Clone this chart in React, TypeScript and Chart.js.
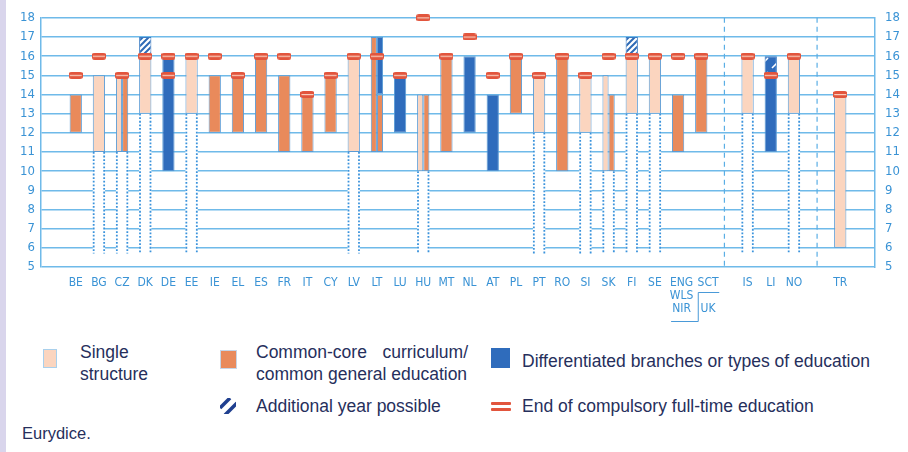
import React, { useEffect, useRef } from 'react';
import { Chart, registerables } from 'chart.js';

Chart.register(...registerables);

// ---- Categories (empty codes are spacer slots) ----
const codes: string[] = [
  '', 'BE', 'BG', 'CZ', 'DK', 'DE', 'EE', 'IE', 'EL', 'ES', 'FR', 'IT', 'CY', 'LV', 'LT', 'LU', 'HU',
  'MT', 'NL', 'AT', 'PL', 'PT', 'RO', 'SI', 'SK', 'FI', 'SE', 'ENG', 'SCT', '', 'IS', 'LI', 'NO', '', 'TR', '',
];
const NB2 = '\u00a0\u00a0';
const NB4 = '\u00a0\u00a0\u00a0\u00a0';
const tickLabels: (string | string[])[] = [
  '', 'BE', 'BG', 'CZ', 'DK', 'DE', 'EE', 'IE', 'EL', 'ES', 'FR', 'IT', 'CY', 'LV', 'LT', 'LU', 'HU',
  'MT', 'NL', 'AT', 'PL', 'PT', 'RO', 'SI', 'SK', 'FI', 'SE',
  [NB2 + 'ENG', NB2 + 'WLS', NB2 + 'NIR'], [NB4 + 'SCT', '', NB4 + 'UK'],
  '', 'IS', 'LI', 'NO', '', 'TR', '',
];
const ageMin = 5;
const ageMax = 18;

type Span = [string, number, number];

// ---- Series (age ranges) ----
const singleStructure: Span[] = [
  ['BG', 11, 15], ['DK', 13, 16], ['EE', 13, 16], ['LV', 11, 16], ['PT', 12, 15], ['SI', 12, 15],
  ['FI', 13, 16], ['SE', 13, 16], ['IS', 13, 16], ['NO', 13, 16], ['TR', 6, 14],
];
const singleStructureSplit: Span[] = [['CZ', 11, 15], ['HU', 10, 14], ['SK', 10, 15]];
const singleStructureEarlierYears: Span[] = [
  ['BG', 5.7, 11], ['CZ', 5.7, 11], ['DK', 5.7, 13], ['EE', 5.7, 13], ['LV', 5.7, 11], ['HU', 5.7, 10],
  ['PT', 5.7, 12], ['SI', 5.7, 12], ['SK', 5.7, 10], ['FI', 5.7, 13], ['SE', 5.7, 13], ['IS', 5.7, 13], ['NO', 5.7, 13],
];
const commonCore: Span[] = [
  ['BE', 12, 14], ['IE', 12, 15], ['EL', 12, 15], ['ES', 12, 16], ['FR', 11, 15], ['IT', 11, 14],
  ['CY', 12, 15], ['MT', 11, 16], ['PL', 13, 16], ['RO', 10, 16], ['ENG', 11, 14], ['SCT', 12, 16],
];
const commonCoreSplitLeft: Span[] = [['LT', 11, 17]];
const commonCoreSplitRight: Span[] = [['CZ', 11, 15], ['LT', 11, 14], ['HU', 10, 14], ['SK', 10, 14]];
const differentiated: Span[] = [['DE', 10, 16], ['LU', 12, 15], ['NL', 12, 16], ['AT', 10, 14], ['LI', 11, 15]];
const differentiatedSplitRight: Span[] = [['LT', 14, 17]];
const additionalYear: Span[] = [['DK', 16, 17], ['FI', 16, 17], ['LI', 15, 16]];
const endCompulsory: [string, number][] = [
  ['BE', 15], ['BG', 16], ['CZ', 15], ['DK', 16], ['DE', 16], ['EE', 16], ['IE', 16], ['EL', 15], ['ES', 16],
  ['FR', 16], ['IT', 14], ['CY', 15], ['LV', 16], ['LT', 16], ['LU', 15], ['HU', 18], ['MT', 16], ['NL', 17],
  ['AT', 15], ['PL', 16], ['PT', 15], ['RO', 16], ['SI', 15], ['SK', 16], ['FI', 16], ['SE', 16], ['ENG', 16],
  ['SCT', 16], ['IS', 16], ['LI', 15], ['NO', 16], ['TR', 14],
];
const endCompulsoryAlt: [string, number][] = [['DE', 15]];

const spanSeries = (list: Span[]) =>
  codes.map((c) => {
    const f = c ? list.find((s) => s[0] === c) : undefined;
    return f ? [f[1], f[2]] : null;
  });
const pointSeries = (list: [string, number][]) =>
  codes.map((c) => {
    const f = c ? list.find((s) => s[0] === c) : undefined;
    return f ? f[1] : null;
  });

const C_SINGLE = '#fbd5bf';
const C_COMMON = '#e98a5b';
const C_DIFF = '#2f6cbc';
const C_EDGE = '#5a9bd5';
const C_GRID = '#6fbae9';
const C_TICK = '#3a93d5';
const C_RED = '#e2553d';
const C_TEXT = '#262f5c';
const TICK_FONT = "'Liberation Sans Narrow', 'DejaVu Sans Condensed', sans-serif";
const LEGEND_FONT = "'Liberation Sans', Arial, sans-serif";

export default function App() {
  const ref = useRef<HTMLCanvasElement>(null);

  useEffect(() => {
    const canvas = ref.current;
    if (!canvas) return;

    const tile = (w: number, h: number, draw: (c: CanvasRenderingContext2D) => void) => {
      const t = document.createElement('canvas');
      t.width = w;
      t.height = h;
      const c = t.getContext('2d')!;
      draw(c);
      return t;
    };
    const hatchWhite = tile(6, 6, (c) => {
      c.fillStyle = '#ffffff';
      c.fillRect(0, 0, 6, 6);
      c.strokeStyle = '#2e6ab5';
      c.lineWidth = 2;
      c.beginPath();
      c.moveTo(-3, 3); c.lineTo(3, -3);
      c.moveTo(0, 6); c.lineTo(6, 0);
      c.moveTo(3, 9); c.lineTo(9, 3);
      c.stroke();
    });
    const hatchBlue = tile(14, 14, (c) => {
      c.fillStyle = C_DIFF;
      c.fillRect(0, 0, 14, 14);
      c.strokeStyle = '#ffffff';
      c.lineWidth = 1.6;
      c.beginPath();
      c.moveTo(2, 12); c.lineTo(12, 2);
      c.stroke();
    });
    const ctx0 = canvas.getContext('2d')!;
    const patWhite = ctx0.createPattern(hatchWhite, 'repeat')!;
    const patBlue = ctx0.createPattern(hatchBlue, 'repeat')!;

    const marker = tile(14, 7, (c) => {
      c.fillStyle = C_RED;
      c.beginPath();
      c.moveTo(3, 0); c.lineTo(11, 0); c.arc(11, 3.5, 3.5, -Math.PI / 2, Math.PI / 2); c.lineTo(3, 7);
      c.arc(3, 3.5, 3.5, Math.PI / 2, Math.PI * 1.5);
      c.fill();
      c.fillStyle = '#f9cdbd';
      c.fillRect(1, 3, 12, 1.2);
    });

    const diffSeries = spanSeries(differentiated);

    const barBase = {
      type: 'bar' as const,
      categoryPercentage: 0.53,
      barPercentage: 1,
      borderWidth: 1,
      borderColor: C_EDGE,
      borderSkipped: false,
      order: 3,
    };

    const decor = {
      id: 'decor',
      afterDatasetsDraw(chart: any) {
        const c = chart.ctx;
        const xs = chart.scales.x;
        const area = chart.chartArea;
        // dotted edges of earlier single-structure years
        const meta = chart.getDatasetMeta(0);
        c.save();
        c.strokeStyle = '#3b93dc';
        c.lineWidth = 1.8;
        c.setLineDash([1.8, 1.8]);
        meta.data.forEach((el: any, i: number) => {
          if (chart.data.datasets[0].data[i] == null) return;
          const p = el.getProps(['x', 'y', 'base', 'width'], true);
          const top = Math.min(p.y, p.base);
          const bot = Math.max(p.y, p.base);
          [p.x - p.width / 2 + 0.9, p.x + p.width / 2 - 0.9].forEach((xx) => {
            c.beginPath();
            c.moveTo(xx, top);
            c.lineTo(xx, bot);
            c.stroke();
          });
        });
        // dashed separators at spacer slots
        c.strokeStyle = '#5aaee5';
        c.lineWidth = 1.2;
        c.setLineDash([5, 4]);
        codes.forEach((code, i) => {
          if (code !== '' || i === 0 || i === codes.length - 1) return;
          const px = xs.getPixelForValue(i);
          c.beginPath();
          c.moveTo(px, area.top);
          c.lineTo(px, area.bottom);
          c.stroke();
        });
        c.restore();
      },
      afterDraw(chart: any) {
        const c = chart.ctx;
        const xs = chart.scales.x;
        const b = chart.chartArea.bottom;
        const xE = xs.getPixelForValue(codes.indexOf('ENG'));
        const xS = xs.getPixelForValue(codes.indexOf('SCT'));
        c.save();
        c.strokeStyle = '#4a9ad8';
        c.lineWidth = 1;
        c.beginPath();
        c.moveTo(xS + 18, b + 25.5);
        c.lineTo(xS - 3, b + 25.5);
        c.lineTo(xS - 3, b + 54.5);
        c.lineTo(xE - 7, b + 54.5);
        c.stroke();
        c.restore();
      },
    };

    const chart = new Chart(canvas, {
      type: 'bar',
      data: {
        labels: tickLabels as any,
        datasets: [
          { ...barBase, label: 'earlier', data: spanSeries(singleStructureEarlierYears) as any, grouped: false, backgroundColor: '#ffffff', borderWidth: 0, order: 6 },
          { ...barBase, label: 'Single structure', data: spanSeries(singleStructure) as any, grouped: false, backgroundColor: C_SINGLE },
          { ...barBase, label: 'Common core', data: spanSeries(commonCore) as any, grouped: false, backgroundColor: C_COMMON },
          { ...barBase, label: 'Differentiated', data: diffSeries as any, grouped: false, backgroundColor: C_DIFF },
          {
            ...barBase, label: 'Additional year', data: spanSeries(additionalYear) as any, grouped: false, order: 1,
            borderColor: '#3b7cc4',
            backgroundColor: (ctx: any) => (diffSeries[ctx.dataIndex] ? patBlue : patWhite),
          },
          { ...barBase, label: 'Single L', data: spanSeries(singleStructureSplit) as any, grouped: true, stack: 'L', backgroundColor: C_SINGLE },
          { ...barBase, label: 'Common L', data: spanSeries(commonCoreSplitLeft) as any, grouped: true, stack: 'L', backgroundColor: C_COMMON },
          { ...barBase, label: 'Common R', data: spanSeries(commonCoreSplitRight) as any, grouped: true, stack: 'R', backgroundColor: C_COMMON },
          { ...barBase, label: 'Diff R', data: spanSeries(differentiatedSplitRight) as any, grouped: true, stack: 'R', backgroundColor: C_DIFF },
          {
            type: 'line', label: 'End', data: pointSeries(endCompulsory) as any, showLine: false,
            pointStyle: marker as any, pointRadius: 5, clip: false as any, order: 0,
          },
          {
            type: 'line', label: 'End alt', data: pointSeries(endCompulsoryAlt) as any, showLine: false,
            pointStyle: marker as any, pointRadius: 5, clip: false as any, order: 0,
          },
        ] as any,
      },
      options: {
        responsive: false,
        animation: false,
        devicePixelRatio: 1,
        layout: { padding: { top: 13, left: 0, right: 0, bottom: 0 } },
        plugins: { legend: { display: false }, tooltip: { enabled: false } },
        scales: {
          x: {
            type: 'category',
            offset: true,
            grid: { display: false, drawTicks: false },
            border: { display: false },
            ticks: {
              autoSkip: false, maxRotation: 0, minRotation: 0, padding: 10, color: C_TICK,
              font: { family: TICK_FONT, size: 12, lineHeight: 1.05 },
            },
            afterFit: (s: any) => { s.height = 68; },
          },
          y: {
            type: 'linear', position: 'left', min: ageMin, max: ageMax, stacked: false,
            grid: { color: C_GRID, lineWidth: 1.5, drawTicks: false },
            border: { display: true, color: C_GRID, width: 1.5 },
            ticks: { stepSize: 1, padding: 6, color: C_TICK, font: { family: TICK_FONT, size: 13 } },
            afterFit: (s: any) => { s.width = 41; },
          },
          y2: {
            type: 'linear', position: 'right', min: ageMin, max: ageMax,
            grid: { display: false, drawTicks: false },
            border: { display: true, color: C_GRID, width: 1.5 },
            ticks: { stepSize: 1, padding: 10, color: C_TICK, font: { family: TICK_FONT, size: 13 } },
            afterFit: (s: any) => { s.width = 33; },
          },
        },
      } as any,
      plugins: [decor],
    });
    return () => chart.destroy();
  }, []);

  const text = (x: number, cy: number, s: string, extra: React.CSSProperties = {}) => (
    <div style={{ position: 'absolute', left: x, top: cy - 11, lineHeight: '22px', fontSize: 17.5, whiteSpace: 'nowrap', color: C_TEXT, ...extra }}>{s}</div>
  );

  return (
    <div style={{ position: 'absolute', left: 0, top: 0, width: 908, height: 452, background: '#ffffff', overflow: 'hidden', fontFamily: LEGEND_FONT }}>
      <canvas ref={ref} width={908} height={335} style={{ position: 'absolute', left: 0, top: 0, width: 908, height: 335 }} />
      <div style={{ position: 'absolute', left: 0, top: 0, width: 6, height: 452, background: '#d9d5ec' }} />

      <div style={{ position: 'absolute', left: 43, top: 349, width: 12, height: 17, background: C_SINGLE, border: '1px solid #a9d0ec' }} />
      {text(80, 352, 'Single')}
      {text(80, 374, 'structure')}

      <div style={{ position: 'absolute', left: 220, top: 350, width: 15, height: 17, background: C_COMMON, border: '1px solid #c7d5e6' }} />
      {text(256, 352, 'Common-core curriculum/', { width: 212, textAlign: 'justify', textAlignLast: 'justify', whiteSpace: 'normal' } as any)}
      {text(256, 374, 'common general education')}

      <div style={{ position: 'absolute', left: 491, top: 348, width: 19, height: 20, background: C_DIFF }} />
      {text(522, 361, 'Differentiated branches or types of education')}

      <svg style={{ position: 'absolute', left: 220, top: 398 }} width={16} height={16}>
        <rect x={0} y={0} width={16} height={16} fill="#ffffff" />
        <line x1={0} y1={10} x2={10} y2={0} stroke="#1f3f8f" strokeWidth={3.5} />
        <line x1={5} y1={17} x2={17} y2={5} stroke="#1f3f8f" strokeWidth={3.5} />
      </svg>
      {text(256, 406, 'Additional year possible')}

      <div style={{ position: 'absolute', left: 491, top: 402, width: 20, height: 3, background: C_RED, borderRadius: 1 }} />
      <div style={{ position: 'absolute', left: 491, top: 408, width: 20, height: 3, background: C_RED, borderRadius: 1 }} />
      {text(522, 406, 'End of compulsory full-time education')}

      {text(22, 433, 'Eurydice.', { fontSize: 16.5 })}
    </div>
  );
}
